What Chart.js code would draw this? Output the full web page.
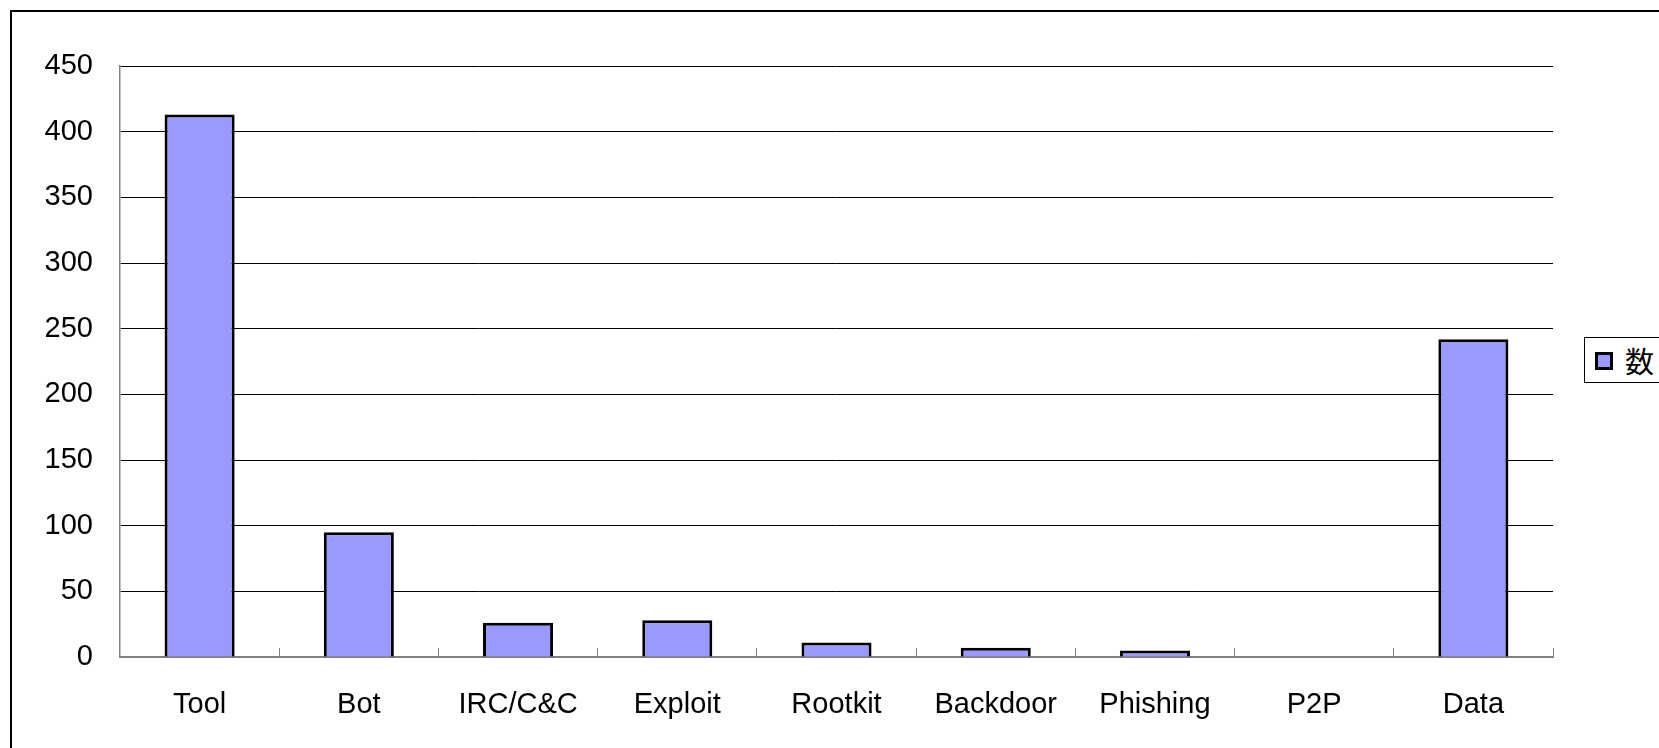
<!DOCTYPE html>
<html>
<head>
<meta charset="utf-8">
<script src="https://cdn.jsdelivr.net/npm/chart.js@4/dist/chart.umd.min.js"></script>
<style>
  html, body { margin: 0; padding: 0; background: #fff; overflow: hidden; }
  #wrap { position: relative; width: 1659px; height: 748px; }
  #frame { position: absolute; left: 10px; top: 10px; width: 1700px; height: 800px; border: 2px solid #000; box-sizing: border-box; pointer-events: none; }
  #chart { position: absolute; left: 0; top: 0; }
  #legend { position: absolute; left: 1584px; top: 337px; width: 120px; height: 46px; border: 1px solid #000; box-sizing: border-box; background: #fff; }
  #legend .sw { position: absolute; left: 10px; top: 14px; width: 18px; height: 18px; box-sizing: border-box; border: 3px solid #000; }
  #legend .tx { position: absolute; left: 40px; top: 2px; font-family: "Noto Sans CJK JP", sans-serif; font-size: 29px; line-height: 40px; color: #000; }
</style>
</head>
<body>
<div id="wrap">
  <canvas id="chart" width="1659" height="748"></canvas>
  <div id="frame"></div>
  <div id="legend"></div>
</div>
<script>
const categories = ["Tool", "Bot", "IRC/C&C", "Exploit", "Rootkit", "Backdoor", "Phishing", "P2P", "Data"];
const seriesName = "数";
const seriesValues = [413, 95, 26, 28, 11, 7, 5, 0, 242];
const yTicks = [0, 50, 100, 150, 200, 250, 300, 350, 400, 450];

const barFill = "#9999FF";
const barEdge = "#000000";

const ctx = document.getElementById("chart").getContext("2d");
const chart = new Chart(ctx, {
  type: "bar",
  data: {
    labels: categories,
    datasets: [{
      label: seriesName,
      data: seriesValues,
      backgroundColor: barFill,
      borderColor: barEdge,
      borderWidth: 3,
      borderSkipped: "bottom",
      categoryPercentage: 1.0,
      barPercentage: 0.44
    }]
  },
  options: {
    responsive: false,
    animation: false,
    devicePixelRatio: 1,
    layout: { padding: { left: 0, top: 66, right: 106, bottom: 0 } },
    plugins: { legend: { display: false }, tooltip: { enabled: false } },
    scales: {
      x: {
        offset: true,
        grid: { offset: true, display: true, drawOnChartArea: false, drawTicks: true, tickLength: -9, color: "#808080", lineWidth: 1 },
        border: { display: true, color: "#808080", width: 2 },
        ticks: { color: "#000", font: { family: "Liberation Sans", size: 29 }, padding: 40, maxRotation: 0, autoSkip: false },
        afterFit: s => { s.height = 748 - 657; }
      },
      y: {
        min: 0, max: 450,
        afterBuildTicks: s => { s.ticks = yTicks.map(v => ({ value: v })); },
        grid: { color: "#000", lineWidth: 1, drawTicks: false },
        border: { display: true, color: "#808080", width: 1.5 },
        ticks: { color: "#000", font: { family: "Liberation Sans", size: 29 }, padding: 27 },
        afterFit: s => { s.width = 120; }
      }
    }
  }
});

const lg = document.getElementById("legend");
const sw = document.createElement("div");
sw.className = "sw";
sw.style.background = chart.data.datasets[0].backgroundColor;
const tx = document.createElement("div");
tx.className = "tx";
tx.textContent = chart.data.datasets[0].label;
lg.appendChild(sw);
lg.appendChild(tx);
</script>
</body>
</html>
